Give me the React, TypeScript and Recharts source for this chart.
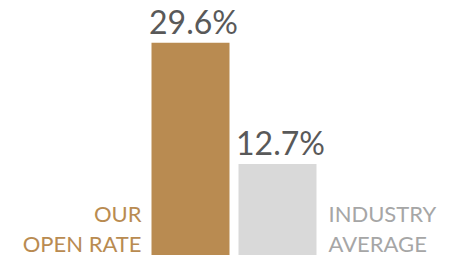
import { Bar, BarChart, Cell, LabelList, XAxis, YAxis } from 'recharts'

const categories = ['Our open rate', 'Industry average']
const openRates = [29.6, 12.7]
const valueLabels = ['29.6%', '12.7%']
const nameLines = [
  ['OUR', 'OPEN RATE'],
  ['INDUSTRY', 'AVERAGE'],
]
const barColors = ['#B98B51', '#D9D9D9']
const nameColors = ['#B98B51', '#A6A6A6']

const data = categories.map((name, i) => ({ name, rate: openRates[i] }))

const FONT = 'Lato, "Open Sans", sans-serif'

function ValueLabel(props: any) {
  const { x, y, width, index } = props
  return (
    <text
      x={x + width / 2 + 3}
      y={y - 9}
      textAnchor="middle"
      fontFamily={FONT}
      fontSize={32}
      fill="#595959"
    >
      {valueLabels[index]}
    </text>
  )
}

function NameLabel(props: any) {
  const { x, y, width, height, index } = props
  const left = index === 0
  const bottom = y + height - 3
  const tx = left ? x - 10 : x + width + 12
  const lines = nameLines[index]
  return (
    <text
      textAnchor={left ? 'end' : 'start'}
      fontFamily={FONT}
      fontSize={22}
      fill={nameColors[index]}
    >
      {lines.map((line, i) => (
        <tspan key={line} x={tx} y={bottom - (lines.length - 1 - i) * 30}>
          {line}
        </tspan>
      ))}
    </text>
  )
}

export default function App() {
  return (
    <div style={{ position: 'absolute', left: 0, top: 0, width: 454, height: 257, background: '#fff' }}>
      <BarChart
        width={454}
        height={257}
        data={data}
        margin={{ top: 40, right: 133.5, bottom: 2, left: 146.5 }}
        barCategoryGap={0}
      >
        <XAxis dataKey="name" hide />
        <YAxis domain={[0, 30]} hide />
        <Bar dataKey="rate" barSize={78} isAnimationActive={false}>
          {data.map((d, i) => (
            <Cell key={d.name} fill={barColors[i]} />
          ))}
          <LabelList dataKey="rate" content={ValueLabel} />
          <LabelList dataKey="name" content={NameLabel} />
        </Bar>
      </BarChart>
    </div>
  )
}
